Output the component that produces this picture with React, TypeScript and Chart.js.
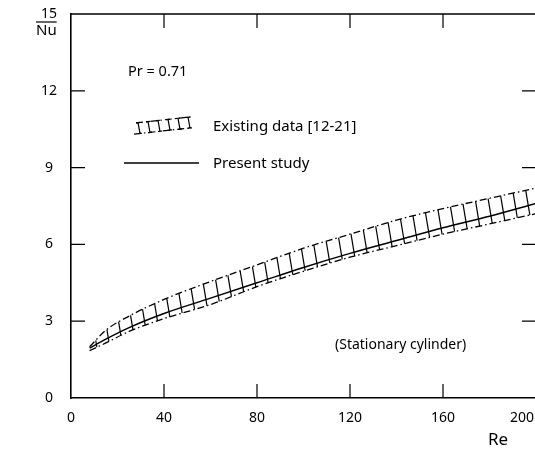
import React, { useEffect, useRef } from "react";
import { Chart, registerables } from "chart.js";

Chart.register(...registerables);

// ---- data ----
const presentRe = [8, 15, 25, 40, 60, 80, 100, 120, 140, 160, 180, 200];
const presentNu = [1.95, 2.3, 2.75, 3.3, 3.9, 4.5, 5.1, 5.65, 6.15, 6.65, 7.1, 7.6];

const bandRe = [8, 15, 25, 40, 60, 80, 100, 120, 140, 160, 180, 200];
const bandUpperNu = [2.0, 2.65, 3.2, 3.85, 4.55, 5.2, 5.85, 6.4, 6.95, 7.4, 7.8, 8.2];
const bandLowerNu = [1.85, 2.15, 2.6, 3.1, 3.65, 4.35, 4.95, 5.5, 5.95, 6.4, 6.8, 7.2];

const xTickValues = [0, 40, 80, 120, 160, 200];
const yTickValues = [0, 3, 6, 9, 12, 15];

const FONT = "'Noto Sans', 'DejaVu Sans', sans-serif";
const DASHDOT = [7, 3, 1.5, 3];

function toPoints(xs: number[], ys: number[]) {
  return xs.map((x, i) => ({ x, y: ys[i] }));
}

function makeHatch(ctx: CanvasRenderingContext2D) {
  const W = 13;
  const H = 78;
  const c = document.createElement("canvas");
  c.width = W;
  c.height = H;
  const g = c.getContext("2d") as CanvasRenderingContext2D;
  g.strokeStyle = "#000";
  g.lineWidth = 1.2;
  for (const n of [-1, 0, 1]) {
    g.beginPath();
    g.moveTo(n * W, 0);
    g.lineTo(n * W + W, H);
    g.stroke();
  }
  return ctx.createPattern(c, "repeat");
}

export default function App() {
  const ref = useRef<HTMLCanvasElement | null>(null);

  useEffect(() => {
    const canvas = ref.current;
    if (!canvas) return;
    const ctx0 = canvas.getContext("2d") as CanvasRenderingContext2D;
    const hatch = makeHatch(ctx0);

    const decor = {
      id: "decor",
      afterDraw(chart: any) {
        const ctx = chart.ctx as CanvasRenderingContext2D;
        const a = chart.chartArea;
        const xs = chart.scales.x;
        const ys = chart.scales.y;
        ctx.save();
        ctx.strokeStyle = "#000";
        ctx.fillStyle = "#000";
        // top and right borders
        ctx.lineWidth = 1.6;
        ctx.beginPath();
        ctx.moveTo(a.left, a.top);
        ctx.lineTo(a.right, a.top);
        ctx.lineTo(a.right, a.bottom);
        ctx.stroke();
        // inward ticks
        ctx.lineWidth = 1.2;
        const TL = 14;
        for (const v of xTickValues) {
          if (v === xTickValues[0] || v === xTickValues[xTickValues.length - 1]) continue;
          const px = xs.getPixelForValue(v);
          ctx.beginPath();
          ctx.moveTo(px, a.bottom);
          ctx.lineTo(px, a.bottom - TL);
          ctx.moveTo(px, a.top);
          ctx.lineTo(px, a.top + TL);
          ctx.stroke();
        }
        for (const v of yTickValues) {
          if (v === yTickValues[0] || v === yTickValues[yTickValues.length - 1]) continue;
          const py = ys.getPixelForValue(v);
          ctx.beginPath();
          ctx.moveTo(a.left, py);
          ctx.lineTo(a.left + TL, py);
          ctx.moveTo(a.right, py);
          ctx.lineTo(a.right - TL, py);
          ctx.stroke();
        }
        // tick labels
        ctx.font = `14px ${FONT}`;
        ctx.textBaseline = "middle";
        ctx.textAlign = "center";
        for (const v of xTickValues) {
          const label = String(v);
          const w = ctx.measureText(label).width;
          const px = Math.min(xs.getPixelForValue(v), 534 - w / 2);
          ctx.fillText(label, px, a.bottom + 20);
        }
        for (const v of yTickValues) {
          ctx.fillText(String(v), 49, ys.getPixelForValue(v));
        }
        // axis titles
        ctx.font = `17px ${FONT}`;
        ctx.textAlign = "center";
        ctx.fillText("Re", 498, 440);
        ctx.font = `15px ${FONT}`;
        ctx.textAlign = "left";
        const nuW = ctx.measureText("Nu").width;
        ctx.fillText("Nu", 36, 31);
        ctx.lineWidth = 1.2;
        ctx.beginPath();
        ctx.moveTo(36, 22);
        ctx.lineTo(36 + nuW, 22);
        ctx.stroke();
        // annotations
        ctx.font = `14.5px ${FONT}`;
        ctx.fillText("Pr = 0.71", 128, 72);
        ctx.font = `15px ${FONT}`;
        ctx.fillText("Existing data [12-21]", 213, 127);
        ctx.fillText("Present study", 213, 164);
        ctx.font = `14px ${FONT}`;
        ctx.fillText("(Stationary cylinder)", 335, 345);
        // legend band symbol
        const x0 = 135, x1 = 190;
        const upY = (x: number) => 123 - ((x - x0) / (x1 - x0)) * 6;
        const loY = (x: number) => 134 - ((x - x0) / (x1 - x0)) * 6;
        ctx.lineWidth = 1.2;
        ctx.setLineDash(DASHDOT);
        ctx.beginPath();
        ctx.moveTo(x0 + 1, upY(x0 + 1));
        ctx.lineTo(x1 + 1, upY(x1 + 1));
        ctx.moveTo(x0 - 1, loY(x0 - 1));
        ctx.lineTo(x1 - 1, loY(x1 - 1));
        ctx.stroke();
        ctx.setLineDash([]);
        for (let k = 0; k < 6; k++) {
          const xt = x0 + 3 + k * 10;
          const xb = xt + 2;
          ctx.beginPath();
          ctx.moveTo(xt, upY(xt));
          ctx.lineTo(xb, loY(xb));
          ctx.moveTo(xt - 2, upY(xt - 2));
          ctx.lineTo(xt + 2, upY(xt + 2));
          ctx.moveTo(xb - 2, loY(xb - 2));
          ctx.lineTo(xb + 2, loY(xb + 2));
          ctx.stroke();
        }
        ctx.lineWidth = 1.4;
        ctx.beginPath();
        ctx.moveTo(124, 163);
        ctx.lineTo(199, 163);
        ctx.stroke();
        ctx.restore();
      },
    };

    const chart = new Chart(canvas, {
      type: "line",
      data: {
        datasets: [
          {
            label: "Existing data lower",
            data: toPoints(bandRe, bandLowerNu),
            borderColor: "#000",
            borderWidth: 1.3,
            borderDash: DASHDOT,
            pointRadius: 0,
            fill: false,
            cubicInterpolationMode: "monotone",
          },
          {
            label: "Existing data [12-21]",
            data: toPoints(bandRe, bandUpperNu),
            borderColor: "#000",
            borderWidth: 1.3,
            borderDash: DASHDOT,
            pointRadius: 0,
            fill: "-1",
            backgroundColor: hatch || "rgba(0,0,0,0.1)",
            cubicInterpolationMode: "monotone",
          },
          {
            label: "Present study",
            data: toPoints(presentRe, presentNu),
            borderColor: "#000",
            borderWidth: 1.5,
            pointRadius: 0,
            fill: false,
            cubicInterpolationMode: "monotone",
          },
        ],
      },
      options: {
        responsive: false,
        animation: false,
        devicePixelRatio: 1,
        layout: { padding: { left: 0, top: 14, right: 4, bottom: 0 } },
        plugins: {
          legend: { display: false },
          tooltip: { enabled: false },
          title: { display: false },
        },
        scales: {
          x: {
            type: "linear",
            min: 0,
            max: 200,
            grid: { display: false, drawTicks: false },
            border: { display: true, color: "#000", width: 1.6 },
            ticks: { display: false, stepSize: 40 },
            afterFit: (s: any) => {
              s.height = 54;
            },
          },
          y: {
            min: 0,
            max: 15,
            grid: { display: false, drawTicks: false },
            border: { display: true, color: "#000", width: 1.6 },
            ticks: { display: false, stepSize: 3 },
            afterFit: (s: any) => {
              s.width = 71;
            },
          },
        },
      },
      plugins: [decor],
    } as any);

    return () => chart.destroy();
  }, []);

  return (
    <div
      style={{
        position: "absolute",
        left: 0,
        top: 0,
        width: 535,
        height: 452,
        overflow: "hidden",
        background: "#fff",
      }}
    >
      <canvas ref={ref} width={540} height={452} style={{ width: 540, height: 452, display: "block" }} />
    </div>
  );
}
